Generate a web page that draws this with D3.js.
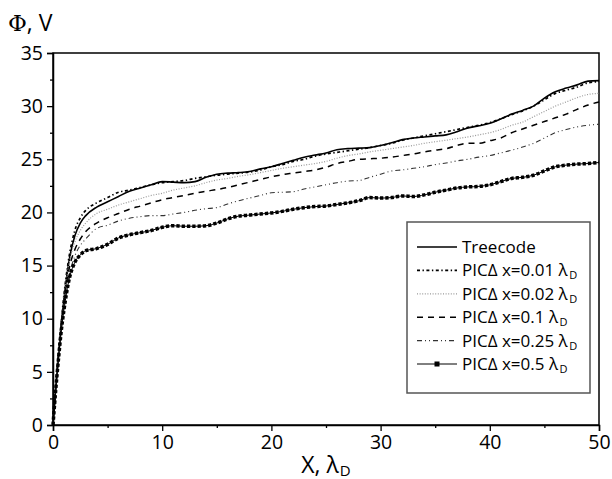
<!DOCTYPE html>
<html><head><meta charset="utf-8">
<script src="https://cdn.jsdelivr.net/npm/d3@7"></script>
<style>body{margin:0;background:#fff;} svg{display:block;}</style>
</head><body>
<svg id="c" width="612" height="479"></svg>
<script>
// x positions (lambda_D)
const xVals = [0,0.25,0.5,0.75,1,1.5,2,2.5,3,4,
  5,6,7,8,9,10,11,12,13,14,15,16,17,18,19,20,21,22,23,24,25,26,27,28,29,30,
  31,32,33,34,35,36,37,38,39,40,41,42,43,44,45,46,47,48,49,50];
const treecode = [0,3.5,6.5,9.3,11.8,15.6,17.8,19.0,19.7,20.5,
  21.0,21.5,22.0,22.3,22.6,22.9,22.85,22.8,22.9,23.3,23.6,23.7,23.75,23.85,24.1,24.3,24.6,24.9,25.2,25.4,25.6,25.9,26.0,26.05,26.1,26.3,
  26.55,26.85,27.0,27.1,27.2,27.3,27.6,27.95,28.15,28.4,28.8,29.25,29.6,30.0,30.75,31.35,31.7,32.0,32.35,32.4];
const pic001 = [0,3.6,6.7,9.6,12.2,16.0,18.3,19.5,20.2,20.9,
  21.4,21.9,22.1,22.35,22.6,22.8,22.9,23.0,23.2,23.35,23.5,23.6,23.7,23.8,24.0,24.3,24.5,24.8,25.0,25.3,25.5,25.65,25.8,25.95,26.1,26.3,
  26.5,26.8,27.0,27.2,27.4,27.6,27.8,28.0,28.2,28.45,28.8,29.2,29.55,30.0,30.6,31.2,31.5,31.8,32.2,32.3];
const pic002 = [0,3.5,6.5,9.3,11.8,15.3,17.2,18.3,19.0,19.9,
  20.3,20.7,21.0,21.3,21.6,21.8,22.1,22.3,22.5,22.8,23.05,23.2,23.4,23.55,23.75,23.95,24.15,24.3,24.45,24.6,24.8,25.1,25.35,25.5,25.7,25.85,
  26.0,26.15,26.3,26.5,26.65,26.8,26.95,27.1,27.3,27.5,27.8,28.2,28.5,29.0,29.5,30.0,30.4,30.8,31.1,31.2];
const pic01 = [0,3.5,6.4,9.2,11.6,14.8,16.5,17.5,18.2,19.0,
  19.5,19.9,20.3,20.6,20.9,21.2,21.4,21.6,21.8,22.0,22.15,22.35,22.6,22.85,23.1,23.35,23.55,23.7,23.85,24.0,24.25,24.6,24.8,25.0,25.05,25.1,
  25.2,25.35,25.5,25.7,25.85,26.0,26.3,26.5,26.5,26.75,27.0,27.5,27.85,28.2,28.55,28.9,29.25,29.7,30.1,30.4];
const pic025 = [0,3.4,6.3,9.0,11.4,14.2,15.9,16.9,17.5,18.5,
  18.8,19.2,19.45,19.6,19.7,19.7,19.85,20.0,20.2,20.35,20.45,20.8,21.1,21.35,21.6,21.85,21.9,21.95,22.2,22.4,22.6,22.8,22.95,23.0,23.3,23.6,
  23.9,24.0,24.15,24.3,24.5,24.65,24.85,25.0,25.2,25.35,25.6,25.85,26.15,26.5,27.0,27.5,27.8,28.05,28.2,28.3];
const pic05 = [0,3.3,6.2,8.8,10.8,13.8,15.3,16.0,16.4,16.6,
  17.0,17.6,17.9,18.1,18.3,18.6,18.75,18.7,18.7,18.75,19.0,19.4,19.65,19.75,19.85,19.95,20.1,20.3,20.45,20.55,20.6,20.75,20.9,21.1,21.4,21.35,
  21.4,21.55,21.5,21.65,21.9,22.1,22.3,22.4,22.45,22.6,22.9,23.2,23.3,23.5,23.9,24.3,24.45,24.55,24.6,24.7];
const seriesNames = ["Treecode","PIC\u0394 x=0.01 \u03bb","PIC\u0394 x=0.02 \u03bb","PIC\u0394 x=0.1 \u03bb","PIC\u0394 x=0.25 \u03bb","PIC\u0394 x=0.5 \u03bb"];
const xTicks = [0,10,20,30,40,50];
const yTicks = [0,5,10,15,20,25,30,35];

const seriesValues = [treecode,pic001,pic002,pic01,pic025,pic05];
const styles = [
  {stroke:"#000", w:1.6, dash:null},
  {stroke:"#000", w:1.7, dash:"3,2.5,1.4,2.5"},
  {stroke:"#999", w:1.2, dash:"1,1.6"},
  {stroke:"#000", w:1.5, dash:"6,5"},
  {stroke:"#333", w:1.1, dash:"5,3,1,3,1,3"},
  {stroke:"#000", w:1.0, dash:null, squares:true}
];

const svg = d3.select("#c");
const font = "'Open Sans', sans-serif";
const L=53, R=599, T=53, B=425;
const x = d3.scaleLinear().domain([0,50]).range([L,R]);
const y = d3.scaleLinear().domain([0,35]).range([B,T]);

// frame
svg.append("rect").attr("x",L).attr("y",T).attr("width",R-L).attr("height",B-T)
  .attr("fill","none").attr("stroke","#000").attr("stroke-width",1.5);

// axes
svg.append("g").attr("transform",`translate(0,${B})`)
  .call(d3.axisBottom(x).tickValues(xTicks).tickSize(6).tickPadding(4).tickFormat(d3.format("d")));
svg.append("g").attr("transform",`translate(0,${B})`)
  .call(d3.axisBottom(x).tickValues(d3.range(5,50,10)).tickSize(3).tickFormat(""))
  .call(g=>g.select(".domain").remove());
svg.append("g").attr("transform",`translate(${L},0)`)
  .call(d3.axisLeft(y).tickValues(yTicks).tickSize(6).tickPadding(4).tickFormat(d3.format("d")));
svg.append("g").attr("transform",`translate(${L},0)`)
  .call(d3.axisLeft(y).tickValues(d3.range(2.5,35,5)).tickSize(3).tickFormat(""))
  .call(g=>g.select(".domain").remove());
svg.selectAll(".domain").attr("stroke-width",1.5);
svg.selectAll(".tick line").attr("stroke-width",1.3);
svg.selectAll(".tick text").attr("font-family",font).attr("font-size",19.5).attr("fill","#000");

// curves
const line = d3.line().x((d,i)=>x(xVals[i])).y(d=>y(d)).curve(d3.curveMonotoneX);
const gPlot = svg.append("g");
seriesValues.forEach((vals,k)=>{
  const s = styles[k];
  const p = gPlot.append("path").datum(vals).attr("d",line).attr("fill","none")
    .attr("stroke",s.stroke).attr("stroke-width",s.w);
  if(s.dash) p.attr("stroke-dasharray",s.dash);
  if(s.squares){
    gPlot.append("path").datum(vals).attr("d",line).attr("fill","none")
      .attr("stroke","#000").attr("stroke-width",3.5).attr("stroke-dasharray","3.3,2");
  }
});

// axis titles
const yt = svg.append("text").attr("x",8).attr("y",31).attr("font-family",font).attr("font-size",23).attr("fill","#000");
yt.append("tspan").attr("font-family","'DejaVu Serif', serif").text("\u03a6");
yt.append("tspan").text(", V");
const xt = svg.append("text").attr("x",326).attr("y",473).attr("text-anchor","middle").attr("font-family",font).attr("font-size",23).attr("fill","#000");
xt.append("tspan").text("X, \u03bb");
xt.append("tspan").attr("font-size",15).attr("dx",1).attr("dy",3).text("D");

// legend
const lg = svg.append("g");
lg.append("rect").attr("x",407).attr("y",222).attr("width",183).attr("height",171)
  .attr("fill","#fff").attr("stroke","#555").attr("stroke-width",1.5);
const rowY = k => 247 + k*23.4;
seriesNames.forEach((name,k)=>{
  const s = styles[k], yy = rowY(k);
  const l = lg.append("line").attr("x1",417).attr("x2",457).attr("y1",yy).attr("y2",yy)
    .attr("stroke",s.stroke).attr("stroke-width",s.w);
  if(s.dash) l.attr("stroke-dasharray",s.dash);
  if(s.squares){
    lg.append("rect").attr("x",434.5).attr("y",yy-2.5).attr("width",5).attr("height",5).attr("fill","#000");
  }
  const t = lg.append("text").attr("x",462).attr("y",yy+6).attr("font-family",font).attr("font-size",17).attr("fill","#000");
  t.append("tspan").text(name);
  if(k>0) t.append("tspan").attr("font-size",11).attr("dx",1.5).attr("dy",3).text("D");
});
</script>
</body></html>
